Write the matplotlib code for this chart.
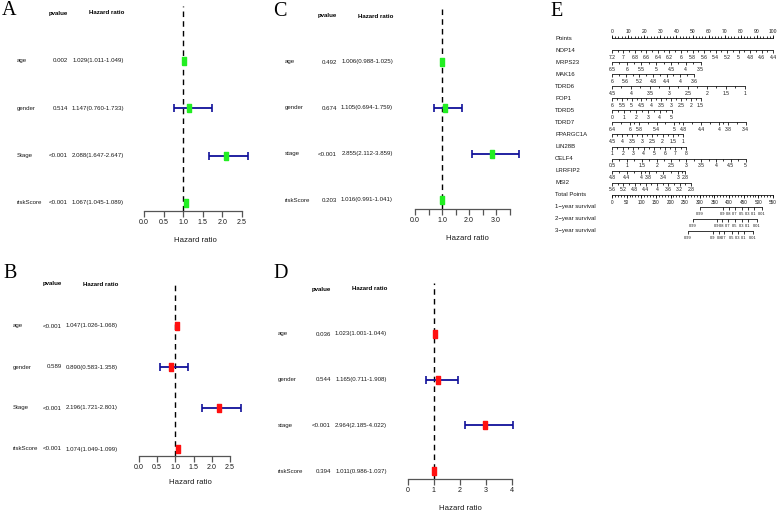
import matplotlib
matplotlib.use('Agg')
import numpy as np
import matplotlib.pyplot as plt
from matplotlib import font_manager
from matplotlib.transforms import blended_transform_factory as btf

# ---------------- data ----------------
A_vars = ['age', 'gender', 'Stage', 'riskScore']
A_p = ['0.002', '0.514', '<0.001', '<0.001']
A_hr = [1.029, 1.147, 2.088, 1.067]
A_lo = [1.011, 0.760, 1.647, 1.045]
A_hi = [1.049, 1.733, 2.647, 1.089]

B_vars = ['age', 'gender', 'Stage', 'riskScore']
B_p = ['<0.001', '0.589', '<0.001', '<0.001']
B_hr = [1.047, 0.890, 2.196, 1.074]
B_lo = [1.026, 0.583, 1.721, 1.049]
B_hi = [1.068, 1.358, 2.801, 1.099]

C_vars = ['age', 'gender', 'stage', 'riskScore']
C_p = ['0.492', '0.674', '<0.001', '0.203']
C_hr = [1.006, 1.105, 2.855, 1.016]
C_lo = [0.988, 0.694, 2.112, 0.991]
C_hi = [1.025, 1.759, 3.859, 1.041]

D_vars = ['age', 'gender', 'stage', 'riskScore']
D_p = ['0.036', '0.544', '<0.001', '0.394']
D_hr = [1.023, 1.165, 2.964, 1.011]
D_lo = [1.001, 0.711, 2.185, 0.986]
D_hi = [1.044, 1.908, 4.022, 1.037]

AB_ticks = [0.0, 0.5, 1.0, 1.5, 2.0, 2.5]
AB_ticklabels = ['0.0', '0.5', '1.0', '1.5', '2.0', '2.5']
C_ticks = [0.0, 0.5, 1.0, 1.5, 2.0, 2.5, 3.0, 3.5]
C_ticklabels = ['0.0', '', '1.0', '', '2.0', '', '3.0', '']
D_ticks = [0, 1, 2, 3, 4]
D_ticklabels = ['0', '1', '2', '3', '4']

# Nomogram (panel E)
points_labels = [0, 10, 20, 30, 40, 50, 60, 70, 80, 90, 100]
points_minor = list(range(0, 101, 2))

NOP14_vals = ['7.2', '7', '6.8', '6.6', '6.4', '6.2', '6', '5.8', '5.6', '5.4', '5.2', '5', '4.8', '4.6', '4.4']
NOP14_pts = [0, 7.1, 14.3, 21.4, 28.6, 35.7, 42.9, 50, 57.1, 64.3, 71.4, 78.6, 85.7, 92.9, 100]
MRPS23_vals = ['6.5', '6', '5.5', '5', '4.5', '4', '3.5']
MRPS23_pts = [0, 9.2, 18.3, 27.5, 36.7, 45.8, 55]
MAK16_vals = ['6', '5.6', '5.2', '4.8', '4.4', '4', '3.6']
MAK16_pts = [0, 8.5, 17, 25.4, 33.9, 42.3, 50.8]
TDRD6_vals = ['4.5', '4', '3.5', '3', '2.5', '2', '1.5', '1']
TDRD6_pts = [0, 11.8, 23.6, 35.4, 47.1, 58.9, 70.7, 82.5]
POP1_vals = ['6', '5.5', '5', '4.5', '4', '3.5', '3', '2.5', '2', '1.5']
POP1_pts = [0, 6.1, 12.2, 18.3, 24.4, 30.6, 36.7, 42.8, 48.9, 55]
TDRD5_vals = ['0', '1', '2', '3', '4', '5']
TDRD5_pts = [0, 7.4, 14.8, 22.2, 29.6, 37]
TDRD7_vals = ['6.4', '6', '5.8', '5.4', '5', '4.8', '4.4', '4', '3.8', '3.4']
TDRD7_pts = [0, 11.1, 16.6, 27.7, 38.7, 44.3, 55.3, 66.4, 71.9, 83]
PPARGC1A_vals = ['4.5', '4', '3.5', '3', '2.5', '2', '1.5', '1']
PPARGC1A_pts = [0, 6.3, 12.6, 18.9, 25.1, 31.4, 37.7, 44]
LIN28B_vals = ['1', '2', '3', '4', '5', '6', '7', '8']
LIN28B_pts = [0, 6.6, 13.1, 19.7, 26.3, 32.9, 39.4, 46]
CELF4_vals = ['0.5', '1', '1.5', '2', '2.5', '3', '3.5', '4', '4.5', '5']
CELF4_pts = [0, 9.2, 18.4, 27.7, 36.9, 46.1, 55.3, 64.6, 73.8, 83]
LRRFIP2_vals = ['4.8', '4.4', '4', '3.8', '3.4', '3', '2.8']
LRRFIP2_pts = [0, 9.1, 18.2, 22.8, 31.9, 41, 45.6]
MSI2_vals = ['5.6', '5.2', '4.8', '4.4', '4', '3.6', '3.2', '2.8']
MSI2_pts = [0, 7, 14, 21, 28, 35, 42, 49]

total_labels = [0, 50, 100, 150, 200, 250, 300, 350, 400, 450, 500, 550]
total_minor = list(range(0, 551, 10))

surv_probs = ['0.99', '0.9', '0.8', '0.7', '0.5', '0.3', '0.1', '0.01']
surv1_tp = [301, 379, 400, 420, 444, 464, 485, 512]
surv2_tp = [277, 359, 376, 396, 420, 444, 464, 495]
surv3_tp = [260, 345, 366, 383, 410, 430, 451, 482]

# ---------------- setup ----------------
W, H = 778, 513
fig = plt.figure(figsize=(W / 100, H / 100), dpi=100)
fig.patch.set_facecolor('white')

names = {f.name for f in font_manager.fontManager.ttflist}
if 'Liberation Sans Narrow' in names:
    SANS = ['Liberation Sans Narrow', 'DejaVu Sans']
    SF = 1.0
else:
    SANS = ['Liberation Sans', 'DejaVu Sans']
    SF = 0.85
SERIF = ['Liberation Serif', 'DejaVu Serif']


def fx(x):
    return x / W


def fy(y):
    return 1 - y / H


BOX = [(-0.65, -1), (0.65, -1), (0.65, 1), (-0.65, 1), (-0.65, -1)]
TXT = '#1a1a1a'


def forest(vars_, pvals, hr, lo, hi, color, x0, x1, xmax, axis_y, top,
           row0, step, ticks, ticklabels, lab_x, p_x, hr_x, head_y,
           xl_x, xl_y, letter, let_x, let_y):
    hr = np.asarray(hr)
    lo = np.asarray(lo)
    hi = np.asarray(hi)
    ax = fig.add_axes([fx(x0), fy(axis_y), (x1 - x0) / W, (axis_y - top) / H])
    ax.set_xlim(0, xmax)
    ax.set_ylim((axis_y - row0) / step, (top - row0) / step)
    ax.patch.set_alpha(0)
    for s in ['top', 'right', 'left']:
        ax.spines[s].set_visible(False)
    ax.spines['bottom'].set_color('#555555')
    ax.spines['bottom'].set_linewidth(0.9)
    ax.set_yticks([])
    ax.set_xticks(ticks)
    ax.set_xticklabels(ticklabels, fontsize=6.0 * SF, family=SANS, color=TXT)
    ax.tick_params(axis='x', length=4, width=0.9, color='#555555', pad=1.8)
    ax.axvline(1, color='black', lw=1.0, ls=(0, (4, 3)), zorder=1)
    ys = np.arange(len(vars_))
    ax.hlines(ys, lo, hi, color='#10109a', lw=1.3, clip_on=False, zorder=2)
    ax.plot(lo, ys, ls='none', marker='|', ms=5.5, mew=1.2, color='#10109a', clip_on=False, zorder=2)
    ax.plot(hi, ys, ls='none', marker='|', ms=5.5, mew=1.2, color='#10109a', clip_on=False, zorder=2)
    ax.plot(hr, ys, ls='none', marker=BOX, ms=5.3, color=color, mec=color, clip_on=False, zorder=3)
    tr = btf(fig.transFigure, ax.transData)
    fs = 5.2 * SF
    for i in ys:
        ax.text(fx(lab_x), i, vars_[i], transform=tr, ha='left', va='center',
                fontsize=fs, family=SANS, color=TXT)
        ax.text(fx(p_x), i, pvals[i], transform=tr, ha='right', va='center',
                fontsize=fs, family=SANS, color=TXT)
        s = f"{hr[i]:.3f}({lo[i]:.3f}-{hi[i]:.3f})"
        ax.text(fx(hr_x), i, s, transform=tr, ha='right', va='center',
                fontsize=fs, family=SANS, color=TXT)
    fig.text(fx(p_x), fy(head_y), 'pvalue', ha='right', va='center',
             fontsize=fs, family=SANS, weight='bold')
    fig.text(fx(hr_x), fy(head_y), 'Hazard ratio', ha='right', va='center',
             fontsize=fs, family=SANS, weight='bold')
    fig.text(fx(xl_x), fy(xl_y), 'Hazard ratio', ha='center', va='center',
             fontsize=6.6 * SF, family=SANS, color=TXT)
    fig.text(fx(let_x), fy(let_y), letter, ha='left', va='center',
             fontsize=14.5, family=SERIF)


forest(A_vars, A_p, A_hr, A_lo, A_hi, '#22ee22', 144, 242, 2.5, 211, 6,
       61, 47.3, AB_ticks, AB_ticklabels, 17, 68, 124, 13, 195, 241, 'A', 2, 11)
forest(B_vars, B_p, B_hr, B_lo, B_hi, '#ff1010', 139, 230, 2.5, 456, 282,
       326, 41, AB_ticks, AB_ticklabels, 13, 62, 118, 284, 190, 482, 'B', 3, 273)
forest(C_vars, C_p, C_hr, C_lo, C_hi, '#22ee22', 415, 509.5, 3.5, 209, 6,
       62, 46, C_ticks, C_ticklabels, 285, 337, 393, 16, 467, 238, 'C', 273, 12)
forest(D_vars, D_p, D_hr, D_lo, D_hi, '#ff1010', 408, 512, 4, 479, 283,
       334, 45.7, D_ticks, D_ticklabels, 278, 331, 387, 289, 460, 508, 'D', 273, 273)

# ---------------- nomogram ----------------
ROW0, RSTEP = 38, 12.06
E_top, E_bot = 18, 248
rect = [fx(612), fy(E_bot), (773 - 612) / W, (E_bot - E_top) / H]
ylim = ((E_bot - ROW0) / RSTEP, (E_top - ROW0) / RSTEP)
axE = fig.add_axes(rect)
axE.set_xlim(0, 100)
axE.set_ylim(*ylim)
axE.axis('off')
axT = fig.add_axes(rect)
axT.set_xlim(0, 550)
axT.set_ylim(*ylim)
axT.axis('off')

NFS = 4.3 * SF
SFS = 3.4 * SF
NAME_FS = 5.1 * SF
LW = 0.55
trE = btf(fig.transFigure, axE.transData)

row_names = ['Points', 'NOP14', 'MRPS23', 'MAK16', 'TDRD6', 'POP1', 'TDRD5', 'TDRD7',
             'PPARGC1A', 'LIN28B', 'CELF4', 'LRRFIP2', 'MSI2', 'Total Points',
             '1\u2212year survival', '2\u2212year survival', '3\u2212year survival']
for r, nm in enumerate(row_names):
    axE.text(fx(555), r, nm, transform=trE, ha='left', va='center',
             fontsize=NAME_FS, family=SANS, color=TXT)

# Points row
axE.plot([0, 100], [0, 0], color='black', lw=LW, clip_on=False)
axE.plot(points_minor, [0] * len(points_minor), ls='none', marker=2, ms=1.6,
         mew=LW, color='black', clip_on=False)
axE.plot(points_labels, [0] * len(points_labels), ls='none', marker=2, ms=2.2,
         mew=LW, color='black', clip_on=False)
for v in points_labels:
    axE.annotate(str(v), (v, 0), xytext=(0, 5.0), textcoords='offset points',
                 ha='center', va='center', fontsize=NFS, family=SANS, color=TXT)

variables = [(NOP14_vals, NOP14_pts), (MRPS23_vals, MRPS23_pts), (MAK16_vals, MAK16_pts),
             (TDRD6_vals, TDRD6_pts), (POP1_vals, POP1_pts), (TDRD5_vals, TDRD5_pts),
             (TDRD7_vals, TDRD7_pts), (PPARGC1A_vals, PPARGC1A_pts), (LIN28B_vals, LIN28B_pts),
             (CELF4_vals, CELF4_pts), (LRRFIP2_vals, LRRFIP2_pts), (MSI2_vals, MSI2_pts)]


def scale_row(ax, r, labels, xs, fs):
    ax.plot([xs[0], xs[-1]], [r, r], color='black', lw=LW, clip_on=False)
    ax.plot(xs, [r] * len(xs), ls='none', marker=3, ms=2.2, mew=LW,
            color='black', clip_on=False)
    for lab, x in zip(labels, xs):
        ax.annotate(lab, (x, r), xytext=(0, -5.2), textcoords='offset points',
                    ha='center', va='center', fontsize=fs, family=SANS, color=TXT)


for k, (vals, pts) in enumerate(variables):
    r = k + 1
    scale_row(axE, r, vals, pts, NFS)
    mids = [(a + b) / 2 for a, b in zip(pts[:-1], pts[1:])]
    axE.plot(mids, [r] * len(mids), ls='none', marker=3, ms=1.5, mew=LW,
             color='black', clip_on=False)

# Total points
rT = 13
axT.plot(total_minor, [rT] * len(total_minor), ls='none', marker=3, ms=1.6,
         mew=LW, color='black', clip_on=False)
scale_row(axT, rT, [str(v) for v in total_labels], total_labels, NFS * 0.92)

# Survival rows
scale_row(axT, 14, surv_probs, surv1_tp, SFS)
scale_row(axT, 15, surv_probs, surv2_tp, SFS)
scale_row(axT, 16, surv_probs, surv3_tp, SFS)

fig.text(fx(550), fy(12), 'E', ha='left', va='center', fontsize=14.5, family=SERIF)

fig.savefig('out.png', dpi=100, facecolor='white')
